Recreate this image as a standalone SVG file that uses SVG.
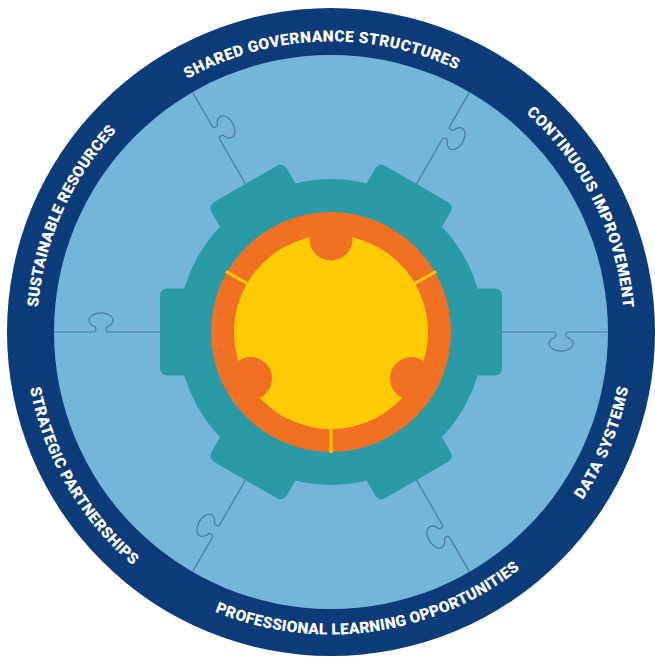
<svg xmlns="http://www.w3.org/2000/svg" xmlns:xlink="http://www.w3.org/1999/xlink" width="655" height="660" viewBox="0 0 655 660">
<style>
.lbl{font-family:Roboto,"Open Sans","Liberation Sans",sans-serif;font-weight:900;font-size:15.5px;fill:#ffffff}
.puz{fill:none;stroke:#4f7c9c;stroke-width:1.2}
.tooth{fill:#2a9aa7}
</style>
<defs>
<path id="knob" d="M 150 0 H 222 Q 226 0 224.5 5 A 12 7.5 0 1 0 235.5 5 Q 234 0 238 0 H 277"/>
<rect id="tooth" x="120" y="-43.5" width="51" height="87" rx="7"/>
<path id="p-shared" d="M -293.8 10.3 A 294 294 0 0 1 293.8 -10.3"/>
<path id="p-cont" d="M -131.2 -263.1 A 294 294 0 0 1 131.2 263.1"/>
<path id="p-sust" d="M -119.6 268.6 A 294 294 0 0 1 119.6 -268.6"/>
<path id="p-data" d="M -115.6 283.3 A 306 306 0 0 0 115.6 -283.3"/>
<path id="p-prof" d="M -303.0 42.6 A 306 306 0 0 0 303.0 -42.6"/>
<path id="p-strat" d="M -153.5 -264.8 A 306 306 0 0 0 153.5 264.8"/>
</defs>
<g transform="translate(331,332)">
<g id="ring">
<circle r="324" fill="#0b3b79"/>
<circle r="277" fill="#74b5da"/>
</g>
<g id="connectors" class="puz">
<use href="#knob"/>
<use href="#knob" transform="rotate(60)"/>
<use href="#knob" transform="rotate(120)"/>
<use href="#knob" transform="rotate(180)"/>
<use href="#knob" transform="rotate(240)"/>
<use href="#knob" transform="rotate(300)"/>
</g>
<g id="gear" class="tooth">
<circle r="153"/>
<use href="#tooth"/>
<use href="#tooth" transform="rotate(60)"/>
<use href="#tooth" transform="rotate(120)"/>
<use href="#tooth" transform="rotate(180)"/>
<use href="#tooth" transform="rotate(240)"/>
<use href="#tooth" transform="rotate(300)"/>
</g>
<g id="core">
<circle r="120" fill="#f07124"/>
<circle r="97" fill="#ffcb05"/>
<circle cx="0" cy="-93" r="21.5" fill="#f07124"/>
<circle cx="80.5" cy="46.5" r="21.5" fill="#f07124"/>
<circle cx="-80.5" cy="46.5" r="21.5" fill="#f07124"/>
<g stroke="#ffcb05" stroke-width="3">
<line x1="-82" y1="-47.5" x2="-105" y2="-60.5"/>
<line x1="82" y1="-47.5" x2="105" y2="-60.5"/>
<line x1="0" y1="95" x2="0" y2="121"/>
</g>
</g>
<g id="label-shared"><text class="lbl"><textPath href="#p-shared" startOffset="50%" text-anchor="middle" textLength="280" lengthAdjust="spacing">SHARED GOVERNANCE STRUCTURES</textPath></text></g>
<g id="label-continuous"><text class="lbl"><textPath href="#p-cont" startOffset="50%" text-anchor="middle" textLength="223" lengthAdjust="spacing">CONTINUOUS IMPROVEMENT</textPath></text></g>
<g id="label-sustainable"><text class="lbl"><textPath href="#p-sust" startOffset="50%" text-anchor="middle" textLength="197" lengthAdjust="spacing">SUSTAINABLE RESOURCES</textPath></text></g>
<g id="label-data"><text class="lbl"><textPath href="#p-data" startOffset="50%" text-anchor="middle" textLength="122" lengthAdjust="spacing">DATA SYSTEMS</textPath></text></g>
<g id="label-professional"><text class="lbl"><textPath href="#p-prof" startOffset="50%" text-anchor="middle" textLength="323" lengthAdjust="spacing">PROFESSIONAL LEARNING OPPORTUNITIES</textPath></text></g>
<g id="label-strategic"><text class="lbl"><textPath href="#p-strat" startOffset="50%" text-anchor="middle" textLength="209" lengthAdjust="spacing">STRATEGIC PARTNERSHIPS</textPath></text></g>
</g>
</svg>
